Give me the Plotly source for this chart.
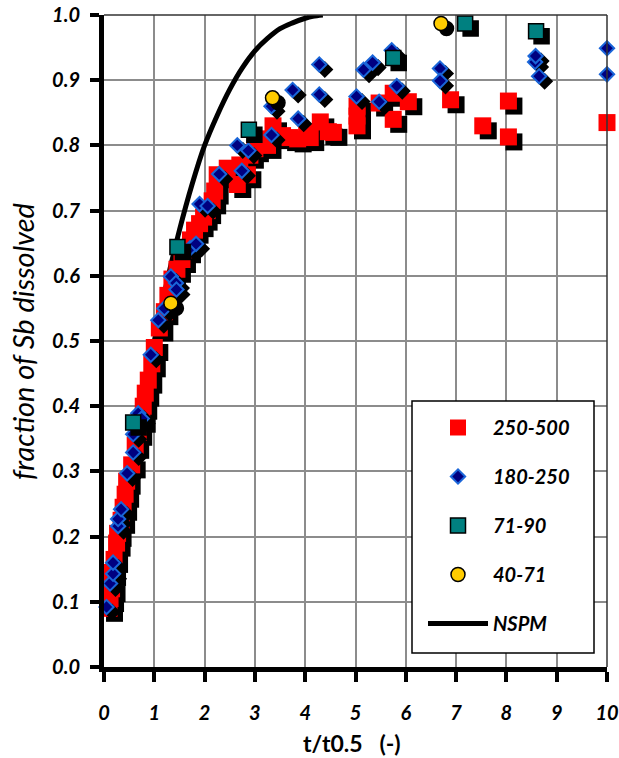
import plotly.graph_objects as go

# ---- data -------------------------------------------------------------
# particle size fraction 250-500
red_x = [0.10, 0.12, 0.15, 0.16, 0.20, 0.25, 0.27, 0.34, 0.38, 0.42, 0.45, 0.55, 0.62, 0.68, 0.75,
         0.78, 0.82, 0.88, 0.95, 1.00, 1.10, 1.20, 1.27, 1.35, 1.45, 1.55, 1.65, 1.72, 1.80, 1.90,
         1.98, 2.05, 2.15, 2.20, 2.25, 2.45, 2.65, 2.70, 2.85, 2.90, 3.00, 3.20, 3.25, 3.36, 3.55,
         3.70, 3.85, 4.03, 4.10, 4.30, 4.46, 4.56, 5.03, 5.03, 5.03, 5.47, 5.75, 5.75, 6.05, 6.89,
         7.53, 8.04, 8.04, 10.0]
red_y = [0.090, 0.105, 0.120, 0.145, 0.165, 0.190, 0.205, 0.225, 0.245, 0.265, 0.285, 0.310, 0.340, 0.360, 0.380,
         0.400, 0.420, 0.440, 0.465, 0.490, 0.520, 0.545, 0.570, 0.595, 0.610, 0.625, 0.640, 0.655, 0.670, 0.680,
         0.690, 0.700, 0.715, 0.730, 0.755, 0.765, 0.740, 0.770, 0.755, 0.785, 0.795, 0.810, 0.800, 0.830, 0.815,
         0.812, 0.810, 0.820, 0.812, 0.836, 0.821, 0.820, 0.860, 0.845, 0.830, 0.865, 0.880, 0.840, 0.867, 0.870,
         0.830, 0.868, 0.813, 0.835]

# particle size fraction 180-250
blue_x = [0.05, 0.12, 0.18, 0.18, 0.28, 0.28, 0.34, 0.46, 0.58, 0.58, 0.68, 0.75, 0.93, 1.08, 1.20,
          1.33, 1.43, 1.44, 1.71, 1.83, 1.90, 2.06, 2.29, 2.65, 2.74, 2.87, 3.33, 3.33, 3.75, 3.86,
          4.28, 4.28, 5.02, 5.16, 5.34, 5.47, 5.72, 5.82, 6.68, 6.68, 8.57, 8.58, 8.65, 10.0, 10.0]
blue_y = [0.092, 0.128, 0.143, 0.160, 0.216, 0.227, 0.242, 0.297, 0.329, 0.357, 0.389, 0.381, 0.479, 0.532, 0.550,
          0.599, 0.589, 0.579, 0.642, 0.649, 0.710, 0.707, 0.756, 0.800, 0.761, 0.792, 0.860, 0.816, 0.885, 0.841,
          0.924, 0.878, 0.875, 0.916, 0.927, 0.867, 0.946, 0.891, 0.918, 0.899, 0.928, 0.937, 0.906, 0.949, 0.909]

# particle size fraction 71-90
teal_x = [0.58, 1.46, 2.88, 5.75, 7.18, 8.59]
teal_y = [0.375, 0.644, 0.824, 0.934, 0.987, 0.975]

# particle size fraction 40-71
gold_x = [1.33, 3.35, 6.70]
gold_y = [0.558, 0.873, 0.987]

# NSPM model curve (its lower part runs underneath the data)
nspm_x = [0.75, 1.0, 1.25, 1.5, 1.75, 2.0, 2.25, 2.5, 2.75, 3.0, 3.25, 3.5, 3.75, 4.0, 4.15, 4.35]
nspm_y = [0.40, 0.50, 0.59, 0.67, 0.74, 0.80, 0.846, 0.886, 0.919, 0.945, 0.964, 0.979, 0.988,
          0.995, 0.998, 1.0]

x_ticks = list(range(0, 11))
y_ticks = [round(0.1 * i, 1) for i in range(0, 11)]

# ---- geometry ----------------------------------------------------------
W, H = 619, 758
M = dict(l=104, r=12, t=15, b=91)
X_RANGE = [0, 10]
Y_RANGE = [0, 1]
plot_w = W - M["l"] - M["r"]
plot_h = H - M["t"] - M["b"]


def px_x(px):
    """horizontal page pixel -> paper fraction"""
    return (px - M["l"]) / plot_w


def px_y(py):
    """vertical page pixel -> paper fraction"""
    return (H - M["b"] - py) / plot_h


# drop shadow offset: a few pixels right and down, converted to data units
SHADOW_PX = (5.5, 5.0)
sdx = SHADOW_PX[0] * (X_RANGE[1] - X_RANGE[0]) / plot_w
sdy = SHADOW_PX[1] * (Y_RANGE[1] - Y_RANGE[0]) / plot_h

FONT = "Lato"
tick_font = dict(family=FONT, size=20, color="black", weight="bold", style="italic")

series = [
    dict(name="250-500", x=red_x, y=red_y, symbol="square", size=17,
         fill="#ff0000", edge="#ff0000", edge_w=0, rank=1),
    dict(name="180-250", x=blue_x, y=blue_y, symbol="diamond", size=11,
         fill="#000080", edge="#1a66d9", edge_w=2, rank=2),
    dict(name="71-90", x=teal_x, y=teal_y, symbol="square", size=15,
         fill="#008080", edge="#000000", edge_w=1.5, rank=3),
    dict(name="40-71", x=gold_x, y=gold_y, symbol="circle", size=14,
         fill="#ffcc00", edge="#000000", edge_w=1.5, rank=4),
]

fig = go.Figure()

fig.add_trace(go.Scatter(
    x=nspm_x, y=nspm_y, mode="lines", name="NSPM",
    line=dict(color="black", width=5, shape="spline"),
    legendgroup="NSPM", legendrank=5, cliponaxis=False, hoverinfo="skip",
))

for s in series:
    # shadow
    fig.add_trace(go.Scatter(
        x=[v + sdx for v in s["x"]], y=[v - sdy for v in s["y"]],
        mode="markers", showlegend=False, legendgroup=s["name"], hoverinfo="skip",
        marker=dict(symbol=s["symbol"], size=s["size"], color="black",
                    line=dict(color="black", width=s["edge_w"])),
        cliponaxis=False,
    ))
    fig.add_trace(go.Scatter(
        x=s["x"], y=s["y"], mode="markers", name=s["name"],
        legendgroup=s["name"], legendrank=s["rank"],
        marker=dict(symbol=s["symbol"], size=s["size"], color=s["fill"],
                    line=dict(color=s["edge"], width=s["edge_w"])),
        cliponaxis=False,
    ))

GRID = "#8c8c8c"
fig.update_layout(
    width=W, height=H, margin=M,
    paper_bgcolor="white", plot_bgcolor="white",
    showlegend=True,
    xaxis=dict(
        range=X_RANGE, tickvals=x_ticks, ticktext=[str(v) for v in x_ticks],
        showgrid=True, gridcolor=GRID, gridwidth=1.5, zeroline=False, automargin=False,
        showline=True, linecolor="black", linewidth=5,
        ticks="outside", ticklen=10, tickwidth=4, tickcolor="black",
        ticklabelstandoff=14, tickfont=tick_font,
    ),
    yaxis=dict(
        range=Y_RANGE, tickvals=y_ticks, ticktext=[f"{v:.1f}" for v in y_ticks],
        showgrid=True, gridcolor=GRID, gridwidth=1.5, zeroline=False, automargin=False,
        showline=True, linecolor="black", linewidth=5,
        ticks="outside", ticklen=9, tickwidth=4, tickcolor="black",
        ticklabelstandoff=6, tickfont=tick_font,
    ),
    # companion axes carrying the inner half of the crossing tick marks
    xaxis2=dict(
        overlaying="x", anchor="y", side="bottom", range=X_RANGE, automargin=False,
        tickvals=x_ticks, showticklabels=False, showgrid=False, zeroline=False, showline=False,
        ticks="inside", ticklen=9, tickwidth=4, tickcolor="black",
        minor=dict(dtick=0.5, tick0=0.5, ticks="inside", ticklen=6, tickwidth=4, tickcolor="black"),
    ),
    yaxis2=dict(
        overlaying="y", anchor="x", side="left", range=Y_RANGE, automargin=False,
        tickvals=y_ticks, showticklabels=False, showgrid=False, zeroline=False, showline=False,
        ticks="inside", ticklen=9, tickwidth=4, tickcolor="black",
    ),
    legend=dict(
        x=px_x(423), y=px_y(408), xanchor="left", yanchor="top",
        bgcolor="rgba(0,0,0,0)", borderwidth=0,
        font=dict(family=FONT, size=20, color="black", weight="bold", style="italic"),
        traceorder="grouped", tracegroupgap=20, itemwidth=60,
    ),
    shapes=[
        # thin frame on top and right of the plotting area
        dict(type="line", xref="paper", yref="paper", x0=0, x1=1, y0=1, y1=1,
             line=dict(color="#333333", width=1.5)),
        dict(type="line", xref="paper", yref="paper", x0=1, x1=1, y0=0, y1=1,
             line=dict(color="#333333", width=1.5)),
        # legend box
        dict(type="rect", xref="paper", yref="paper", layer="above",
             x0=px_x(412), x1=px_x(594), y0=px_y(653), y1=px_y(401),
             fillcolor="white", line=dict(color="black", width=1.5)),
    ],
    annotations=[
        dict(text="fraction of Sb dissolved", xref="paper", yref="paper",
             x=px_x(22), y=px_y(342), textangle=-90,
             showarrow=False, xanchor="center", yanchor="middle",
             font=dict(family=FONT, size=29, color="black", style="italic")),
        dict(text="t/t0.5\u00a0\u00a0\u00a0(-)", xref="paper", yref="paper",
             x=px_x(352), y=px_y(743),
             showarrow=False, xanchor="center", yanchor="middle",
             font=dict(family=FONT, size=23, color="black", weight="bold")),
    ],
)

fig.write_html("out.html")
